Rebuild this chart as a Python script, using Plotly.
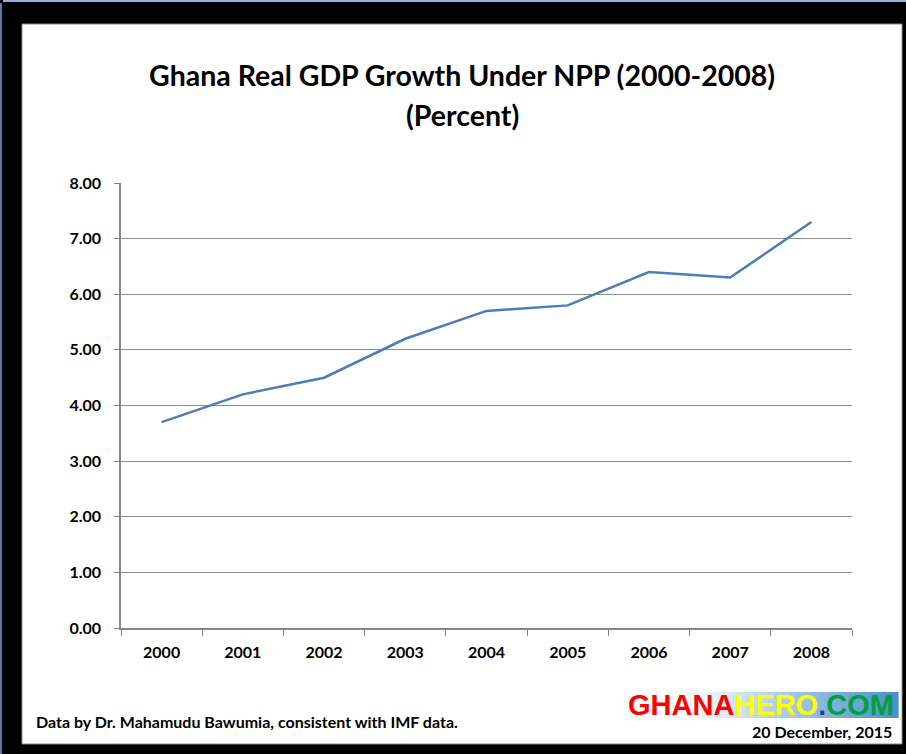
import plotly.graph_objects as go

years = ["2000", "2001", "2002", "2003", "2004", "2005", "2006", "2007", "2008"]
growth = [3.7, 4.2, 4.5, 5.2, 5.7, 5.8, 6.4, 6.3, 7.3]
y_ticks = [0, 1, 2, 3, 4, 5, 6, 7, 8]
y_tick_labels = ["0.00", "1.00", "2.00", "3.00", "4.00", "5.00", "6.00", "7.00", "8.00"]

W, H = 906, 754
L, R, T, B = 121, 852, 183, 628  # plot area in pixels


def px(x):
    return (x - L) / (R - L)


def py(y):
    return (B - y) / (B - T)


fig = go.Figure()
fig.add_trace(go.Scatter(
    x=years, y=growth, mode="lines",
    line=dict(color="#4A7EBB", width=2.5),
    hoverinfo="x+y", showlegend=False,
))

shapes = []
shapes.append(dict(type="rect", xref="paper", yref="paper", layer="below",
                   x0=px(0), x1=px(906), y0=py(754), y1=py(0),
                   fillcolor="#000000", line=dict(width=0)))
shapes.append(dict(type="line", xref="paper", yref="paper", layer="below",
                   x0=px(3), x1=px(906), y0=py(1), y1=py(1),
                   line=dict(color="#8eb0dc", width=2)))
shapes.append(dict(type="line", xref="paper", yref="paper", layer="below",
                   x0=px(1), x1=px(1), y0=py(3), y1=py(754),
                   line=dict(color="#5a78a8", width=2)))
shapes.append(dict(type="rect", xref="paper", yref="paper", layer="below",
                   x0=px(22), x1=px(902), y0=py(744), y1=py(24),
                   fillcolor="#ffffff", line=dict(color="#8c8c8c", width=1)))
# gradient behind logo
x_start, x_end = 680, 898
n = 30
c0 = (255, 255, 255)
c1 = (200, 225, 242)
c2 = (75, 145, 205)
for i in range(n):
    t = i / (n - 1)
    if t < 0.3:
        u = t / 0.3
        c = tuple(int(c0[k] + (c1[k] - c0[k]) * u) for k in range(3))
    else:
        u = (t - 0.3) / 0.7
        c = tuple(int(c1[k] + (c2[k] - c1[k]) * u) for k in range(3))
    xa = x_start + (x_end - x_start) * i / n
    xb = x_start + (x_end - x_start) * (i + 1) / n + 0.6
    shapes.append(dict(type="rect", xref="paper", yref="paper", layer="below",
                       x0=px(xa), x1=px(xb), y0=py(718), y1=py(692),
                       fillcolor="rgb(%d,%d,%d)" % c, line=dict(width=0)))

font_main = "Lato, 'Open Sans', sans-serif"

annotations = [
    dict(text="<b>Ghana Real GDP Growth Under NPP (2000-2008)</b>", xref="paper", yref="paper",
         x=px(462), y=py(75), xanchor="center", yanchor="middle", showarrow=False,
         font=dict(family=font_main, size=28.5, color="#000000")),
    dict(text="<b>(Percent)</b>", xref="paper", yref="paper",
         x=px(462), y=py(115), xanchor="center", yanchor="middle", showarrow=False,
         font=dict(family=font_main, size=28.5, color="#000000")),
    dict(text="<b>Data by Dr. Mahamudu Bawumia, consistent with IMF data.</b>", xref="paper", yref="paper",
         x=px(34), y=py(721), xanchor="left", yanchor="middle", showarrow=False,
         font=dict(family=font_main, size=16, color="#000000")),
    dict(text="<b>20 December, 2015</b>", xref="paper", yref="paper",
         x=px(894), y=py(731), xanchor="right", yanchor="middle", showarrow=False,
         font=dict(family=font_main, size=16, color="#000000")),
    dict(text="<b><span style='color:#ff0000'>GHANA</span><span style='color:#ffff00'>HERO</span>"
              "<span style='color:#1f3f8f'>.</span><span style='color:#00a03c'>COM</span></b>",
         xref="paper", yref="paper",
         x=px(896), y=py(705), xanchor="right", yanchor="middle", showarrow=False,
         font=dict(family="'Liberation Sans', Arial, sans-serif", size=29)),
]

fig.update_layout(
    width=W, height=H,
    margin=dict(l=L, r=W - R, t=T, b=H - B, pad=0),
    paper_bgcolor="#000000",
    plot_bgcolor="#ffffff",
    shapes=shapes,
    annotations=annotations,
    showlegend=False,
    xaxis=dict(
        type="category", tickson="boundaries", ticks="outside", ticklen=6,
        tickcolor="#868686", tickwidth=1,
        showgrid=False, showline=True, linecolor="#868686", linewidth=1.5,
        tickfont=dict(family=font_main, size=16, color="#000000"),
        tickprefix="<b>", ticksuffix="</b>",
        ticklabelstandoff=9,
        range=[-0.5, 8.5], fixedrange=True,
    ),
    yaxis=dict(
        range=[0, 8], tickvals=y_ticks, ticktext=["<b>%s</b>" % s for s in y_tick_labels],
        ticks="outside", ticklen=5, tickcolor="#868686", tickwidth=1,
        showgrid=True, gridcolor="#8c8c8c", gridwidth=1,
        showline=True, linecolor="#868686", linewidth=1.5, zeroline=False,
        tickfont=dict(family=font_main, size=16, color="#000000"),
        ticklabelstandoff=10, fixedrange=True,
    ),
)

fig.write_html("out.html")
